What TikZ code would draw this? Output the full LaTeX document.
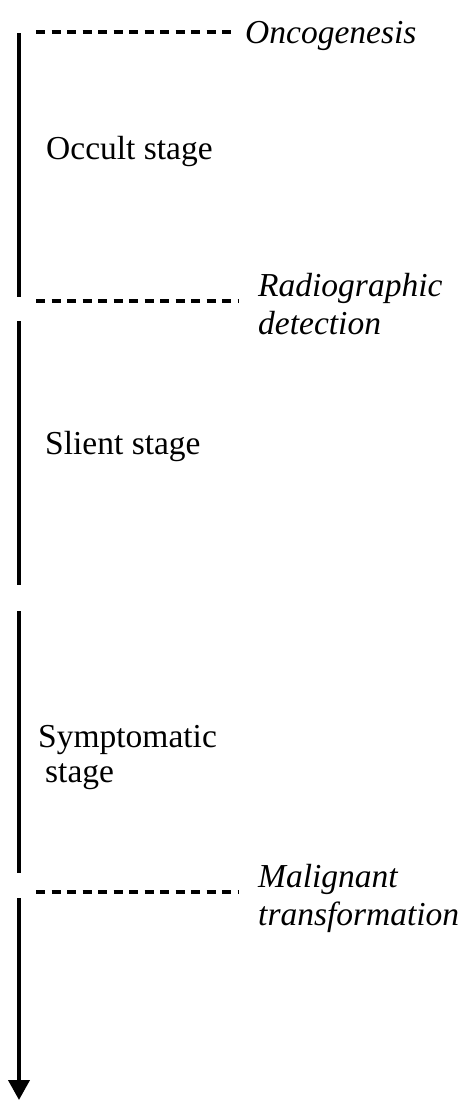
\documentclass[tikz,border=0pt]{standalone}
\usepackage{fontspec}
\setmainfont{Liberation Serif}
\usetikzlibrary{arrows.meta}
\tikzset{
  axisline/.style={line width=4pt, black},
  guide/.style={line width=3.5pt, black, dash pattern=on 9pt off 6.5pt},
  stagelbl/.style={anchor=base west, inner sep=0pt, align=left, font=\fontsize{33.5}{35}\selectfont},
  eventlbl/.style={anchor=base west, inner sep=0pt, align=left, font=\fontsize{33.5}{38}\selectfont\itshape},
}
\begin{document}
\begin{tikzpicture}[x=1pt,y=-1pt]
\useasboundingbox (0,0) rectangle (463,1100);
% axis segments
\coordinate (a1s) at (19,33);  \coordinate (a1e) at (19,297);
\coordinate (a2s) at (19,321); \coordinate (a2e) at (19,585);
\coordinate (a3s) at (19,611); \coordinate (a3e) at (19,873);
\coordinate (a4s) at (19,898); \coordinate (a4e) at (19,1100);
\draw[axisline] (a1s) -- (a1e);
\draw[axisline] (a2s) -- (a2e);
\draw[axisline] (a3s) -- (a3e);
\draw[axisline, -{Triangle[width=21pt,length=20pt]}] (a4s) -- (a4e);
% event labels (base = baseline of last line)
\node[eventlbl] (onco) at (245,43) {Oncogenesis};
\node[eventlbl] (radio) at (258,334) {Radiographic\\detection};
\node[eventlbl] (malig) at (258,925) {Malignant\\transformation};
% stage labels
\node[stagelbl] (occult) at (46,159) {Occult stage};
\node[stagelbl] (silent) at (45,454) {Slient stage};
\node[stagelbl] (sympt) at (38,782) {Symptomatic\\\hspace*{7pt}stage};
% guide lines
\coordinate (g1s) at (36,32);  \coordinate (g1e) at (232,32);
\coordinate (g2s) at (36,301); \coordinate (g2e) at (238,301);
\coordinate (g3s) at (36,892); \coordinate (g3e) at (238,892);
\draw[guide] (g1s) -- (g1e);
\draw[guide] (g2s) -- (g2e);
\draw[guide] (g3s) -- (g3e);
\end{tikzpicture}
\end{document}
